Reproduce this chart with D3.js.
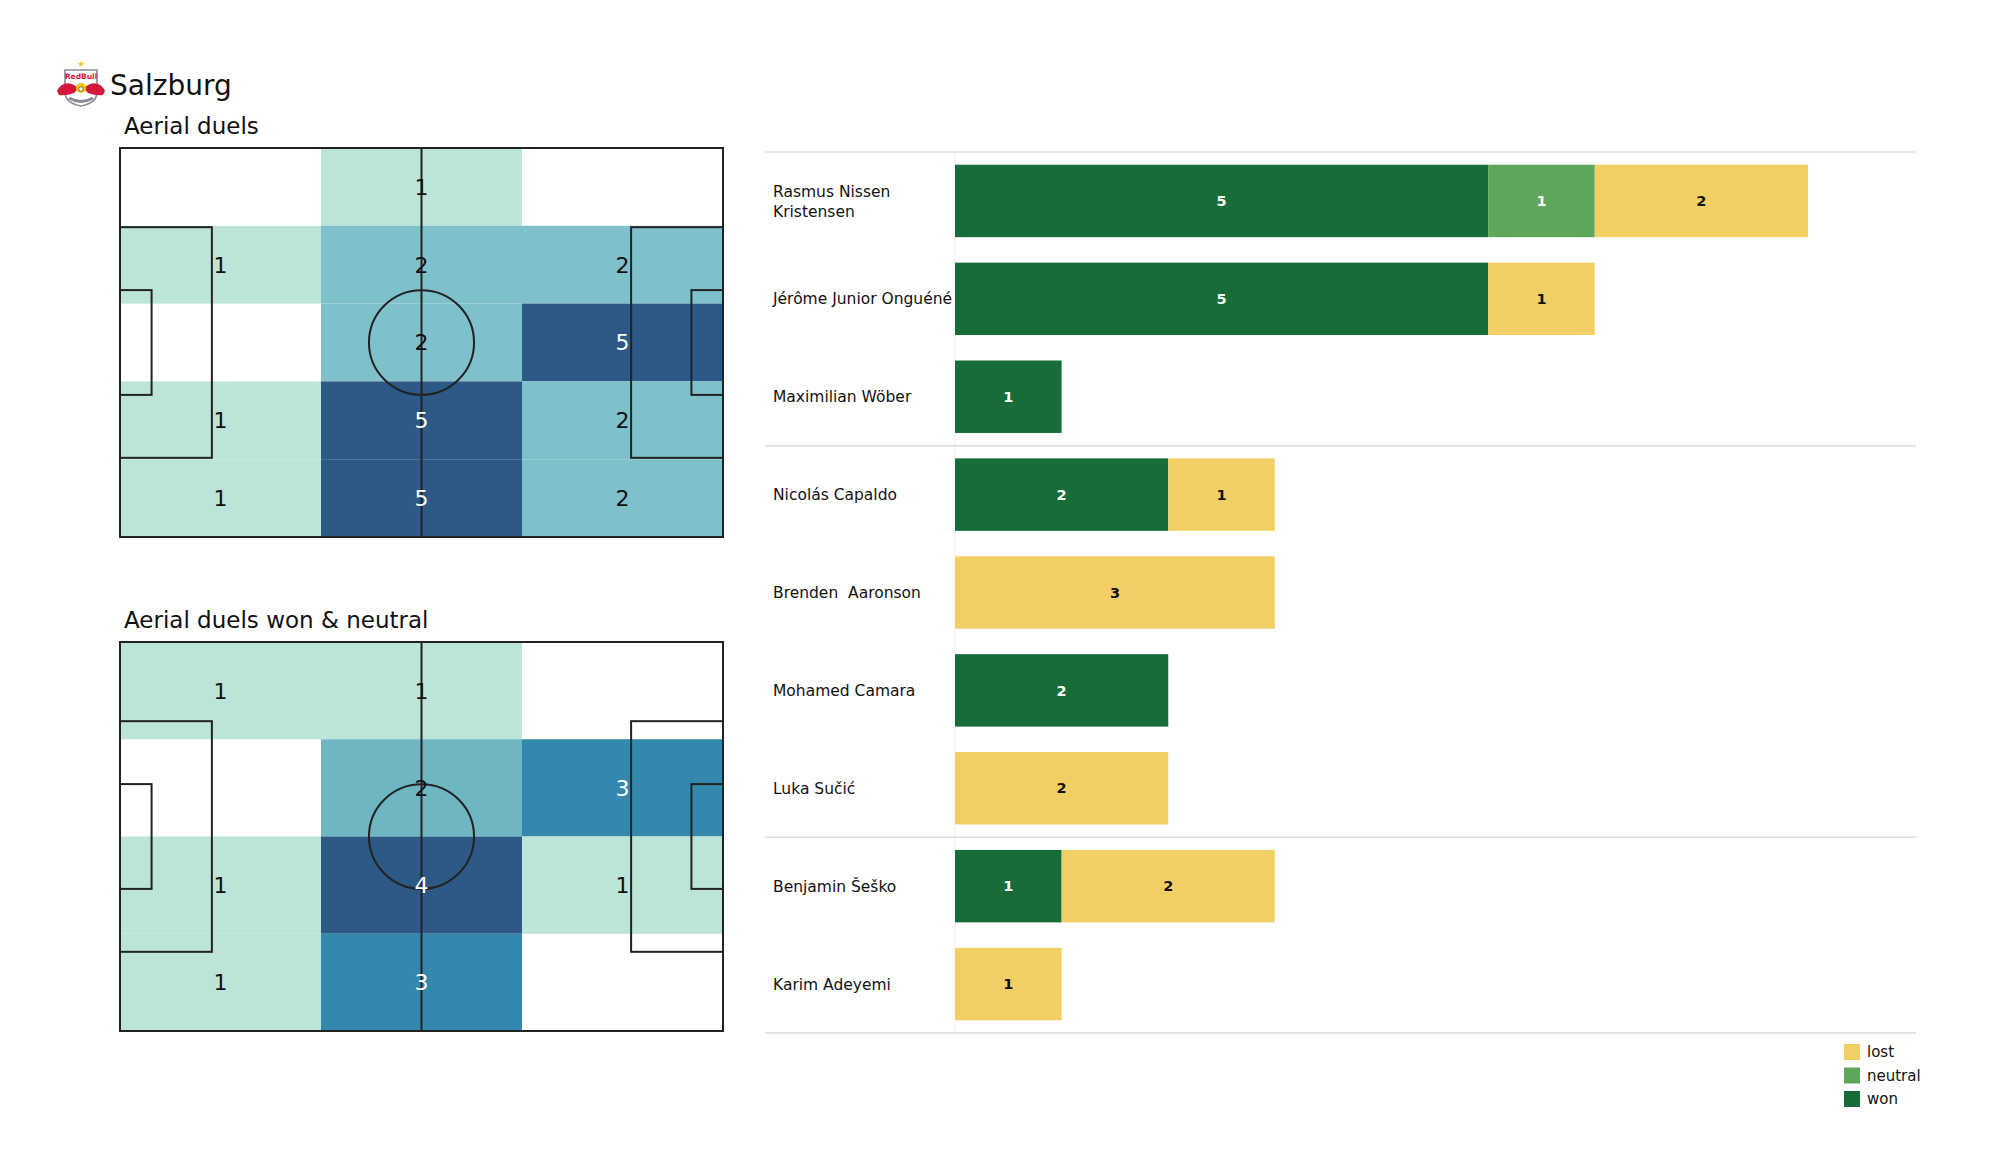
<!DOCTYPE html>
<html>
<head>
<meta charset="utf-8">
<script src="https://cdn.jsdelivr.net/npm/d3@7"></script>
<style>
  html, body { margin: 0; padding: 0; background: #fff; }
  svg { display: block; font-family: "DejaVu Sans", sans-serif; }
</style>
</head>
<body>
<svg id="chart" width="2000" height="1175"></svg>
<script>
// ---------------- DATA ----------------
const teamName = "Salzburg";
const pitch1Title = "Aerial duels";
const pitch2Title = "Aerial duels won & neutral";

// rows top -> bottom, columns left -> right
const pitch1Grid = [
  [0, 1, 0],
  [1, 2, 2],
  [0, 2, 5],
  [1, 5, 2],
  [1, 5, 2]
];
const pitch2Grid = [
  [1, 1, 0],
  [0, 2, 3],
  [1, 4, 1],
  [1, 3, 0]
];

const players = [
  "Rasmus Nissen Kristensen",
  "Jérôme Junior Onguéné",
  "Maximilian Wöber",
  "Nicolás Capaldo",
  "Brenden  Aaronson",
  "Mohamed Camara",
  "Luka Sučić",
  "Benjamin Šeško",
  "Karim Adeyemi"
];
const wonValues     = [5, 5, 1, 2, 0, 2, 0, 1, 0];
const neutralValues = [1, 0, 0, 0, 0, 0, 0, 0, 0];
const lostValues    = [2, 1, 0, 1, 3, 0, 2, 2, 1];
const groupBreaks = [3, 7]; // separator lines after these many rows
const seriesKeys = ["won", "neutral", "lost"];
const legendOrder = ["lost", "neutral", "won"];

// ---------------- STYLE ----------------
const colors = { won: "#166d39", neutral: "#5fa55a", lost: "#f2cf65" };
const heatColor = d3.scaleLinear()
  .domain([0.2, 0.25, 0.4, 0.5, 0.75, 1])
  .range(["#bce4d8", "#bce4d8", "#7fc1ca", "#6eb6c2", "#3588ad", "#2c5985"])
  .clamp(true);
const lineColor = "#222";

const svg = d3.select("#chart");

// ---------------- LOGO ----------------
function drawLogo(g) {
  g.append("path")
    .attr("d", "M65,70 L97,70 L97,92 Q97,103 81,106 Q65,103 65,92 Z")
    .attr("fill", "#fff").attr("stroke", "#8a8a9a").attr("stroke-width", 1.6);
  g.append("text").attr("x", 81).attr("y", 79).attr("text-anchor", "middle")
    .attr("font-size", 7.5).attr("font-weight", "bold").attr("fill", "#d4173a")
    .text("RedBull");
  g.append("path")
    .attr("d", "M57,91 Q62,81 72,84 L79,88 L74,93 Q66,96 59,95 Z")
    .attr("fill", "#d4173a");
  g.append("path")
    .attr("d", "M105,91 Q100,81 90,84 L83,88 L88,93 Q96,96 103,95 Z")
    .attr("fill", "#d4173a");
  g.append("circle").attr("cx", 81).attr("cy", 88).attr("r", 5).attr("fill", "#f5c400");
  g.append("circle").attr("cx", 81).attr("cy", 89).attr("r", 2.2).attr("fill", "#fff").attr("stroke", "#333").attr("stroke-width", 0.6);
  g.append("path")
    .attr("d", "M69,98 Q81,105 93,98")
    .attr("fill", "none").attr("stroke", "#8a8a9a").attr("stroke-width", 3);
  g.append("path")
    .attr("d", d3.symbol().type(d3.symbolStar).size(14)())
    .attr("transform", "translate(81,64)")
    .attr("fill", "#f0c419");
}
drawLogo(svg.append("g"));

svg.append("text").attr("x", 110).attr("y", 95)
  .attr("font-size", 28).attr("fill", "#111").text(teamName);

// ---------------- PITCHES ----------------
function drawPitch(top, title, grid) {
  const g = svg.append("g");
  const x = d3.scaleLinear().domain([0, 105]).range([120, 723]);
  const y = d3.scaleLinear().domain([0, 68]).range([top, top + 389]);

  g.append("text").attr("x", 124).attr("y", top - 14)
    .attr("font-size", 23).attr("fill", "#111").text(title);

  const nRows = grid.length, nCols = grid[0].length;
  const cx = d3.scaleBand().domain(d3.range(nCols)).range([0, 105]);
  const cy = d3.scaleBand().domain(d3.range(nRows)).range([0, 68]);
  const maxV = d3.max(grid.flat());
  const cells = [];
  grid.forEach((row, r) => row.forEach((v, c) => cells.push({ r, c, v })));

  g.selectAll("rect.cell").data(cells.filter(d => d.v > 0)).join("rect")
    .attr("class", "cell")
    .attr("x", d => x(cx(d.c)))
    .attr("y", d => y(cy(d.r)))
    .attr("width", d => x(cx(d.c) + cx.bandwidth()) - x(cx(d.c)))
    .attr("height", d => y(cy(d.r) + cy.bandwidth()) - y(cy(d.r)))
    .attr("fill", d => heatColor(d.v / maxV));

  const line = (x1, y1, x2, y2) => g.append("line")
    .attr("x1", x(x1)).attr("y1", y(y1)).attr("x2", x(x2)).attr("y2", y(y2))
    .attr("stroke", lineColor).attr("stroke-width", 2);
  const box = (x1, y1, x2, y2) => g.append("rect")
    .attr("x", x(Math.min(x1, x2))).attr("y", y(y1))
    .attr("width", Math.abs(x(x2) - x(x1))).attr("height", y(y2) - y(y1))
    .attr("fill", "none").attr("stroke", lineColor).attr("stroke-width", 2);

  box(0, 0, 105, 68);
  line(52.5, 0, 52.5, 68);
  g.append("ellipse")
    .attr("cx", x(52.5)).attr("cy", y(34))
    .attr("rx", x(9.15) - x(0)).attr("ry", y(9.15) - y(0))
    .attr("fill", "none").attr("stroke", lineColor).attr("stroke-width", 2);
  box(0, 13.84, 16, 54.16);
  box(105, 13.84, 89, 54.16);
  box(0, 24.84, 5.5, 43.16);
  box(105, 24.84, 99.5, 43.16);

  g.selectAll("text.val").data(cells.filter(d => d.v > 0)).join("text")
    .attr("class", "val")
    .attr("x", d => x(cx(d.c) + cx.bandwidth() / 2))
    .attr("y", d => y(cy(d.r) + cy.bandwidth() / 2))
    .attr("dy", "0.36em")
    .attr("text-anchor", "middle")
    .attr("font-size", 22)
    .attr("fill", d => (d.v / maxV > 0.6 ? "#fff" : "#111"))
    .text(d => d.v);
}
drawPitch(148, pitch1Title, pitch1Grid);
drawPitch(642, pitch2Title, pitch2Grid);

// ---------------- BAR CHART ----------------
const rows = players.map((p, i) => ({
  name: p, won: wonValues[i], neutral: neutralValues[i], lost: lostValues[i]
}));
const yB = d3.scaleBand().domain(players).range([152, 1033])
  .paddingInner(0.26).paddingOuter(0.13);
const xB = d3.scaleLinear().domain([0, 8]).range([955, 1808]);
const stack = d3.stack().keys(seriesKeys)(rows);

const bc = svg.append("g");
bc.append("line").attr("x1", xB(0)).attr("x2", xB(0))
  .attr("y1", 152).attr("y2", 1033).attr("stroke", "#f0f0f0").attr("stroke-width", 1);

const sepY = [0, ...groupBreaks, players.length].map(k => 152 + k * yB.step());
bc.selectAll("line.sep").data(sepY).join("line").attr("class", "sep")
  .attr("x1", 765).attr("x2", 1916).attr("y1", d => d).attr("y2", d => d)
  .attr("stroke", "#dcdcdc").attr("stroke-width", 1.5);

stack.forEach(layer => {
  const key = layer.key;
  const segs = layer.map((d, i) => ({ key, name: players[i], x0: d[0], x1: d[1] }))
    .filter(d => d.x1 > d.x0);
  bc.selectAll("rect.seg-" + key).data(segs).join("rect")
    .attr("class", "seg-" + key)
    .attr("x", d => xB(d.x0)).attr("width", d => xB(d.x1) - xB(d.x0))
    .attr("y", d => yB(d.name)).attr("height", yB.bandwidth())
    .attr("fill", colors[key]);
  bc.selectAll("text.lbl-" + key).data(segs).join("text")
    .attr("class", "lbl-" + key)
    .attr("x", d => (xB(d.x0) + xB(d.x1)) / 2)
    .attr("y", d => yB(d.name) + yB.bandwidth() / 2)
    .attr("dy", "0.36em").attr("text-anchor", "middle")
    .attr("font-size", 14.5).attr("font-weight", "bold")
    .attr("fill", key === "lost" ? "#111" : "#fff")
    .text(d => d.x1 - d.x0);
});

function wrapName(n) {
  return n === "Rasmus Nissen Kristensen" ? ["Rasmus Nissen", "Kristensen"] : [n];
}
const lh = 20;
bc.selectAll("text.name").data(players).join("text")
  .attr("class", "name")
  .attr("x", 773)
  .attr("font-size", 15.5).attr("fill", "#111")
  .style("white-space", "pre")
  .each(function (d) {
    const parts = wrapName(d);
    const t = d3.select(this);
    const yc = yB(d) + yB.bandwidth() / 2;
    parts.forEach((p, i) => {
      t.append("tspan").attr("x", 773)
        .attr("y", yc - (parts.length - 1) * lh / 2 + i * lh)
        .attr("dy", "0.36em")
        .text(p);
    });
  });

// legend
const lg = svg.append("g");
legendOrder.forEach((k, i) => {
  const yy = 1052 + i * 23.5;
  lg.append("rect").attr("x", 1844).attr("y", yy - 8).attr("width", 16).attr("height", 16)
    .attr("fill", colors[k]);
  lg.append("text").attr("x", 1867).attr("y", yy).attr("dy", "0.36em")
    .attr("font-size", 15).attr("fill", "#111").text(k);
});
</script>
</body>
</html>
